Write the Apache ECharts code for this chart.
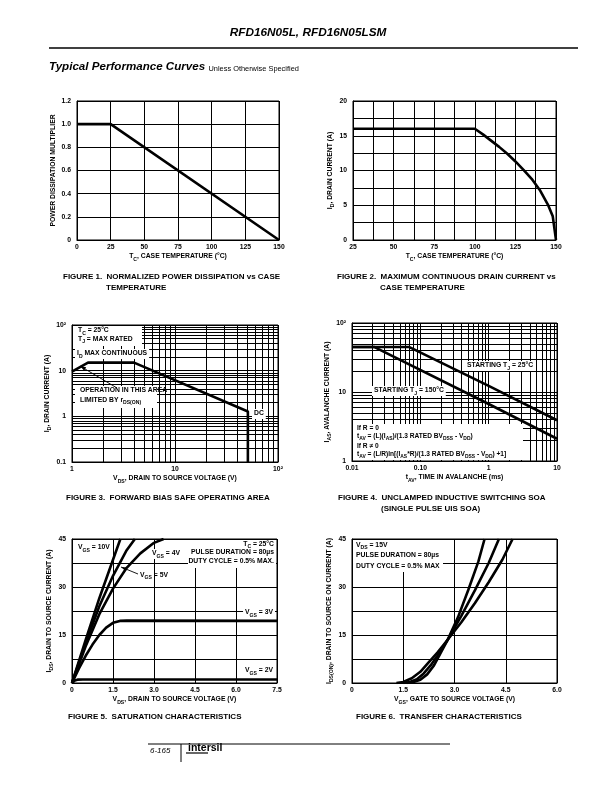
<!DOCTYPE html>
<html>
<head>
<meta charset="utf-8">
<script src="https://cdn.jsdelivr.net/npm/echarts@6.0.0/dist/echarts.min.js"></script>
<style>
html,body{margin:0;padding:0;background:#fff;}
#c{width:612px;height:792px;}
</style>
</head>
<body>
<div id="c"></div>
<script>
// ---------------- DATA ----------------
// Figure 1: normalized power dissipation vs case temperature
const fig1Temp = [0, 25, 150];
const fig1Mult = [1.0, 1.0, 0.0];

// Figure 2: maximum continuous drain current vs case temperature
const fig2Temp = [25, 100, 105, 110, 115, 120, 125, 130, 135, 140, 145, 148, 150];
const fig2Id   = [16, 16, 15.2, 14.3, 13.4, 12.4, 11.3, 10.1, 8.8, 7.2, 5.1, 3.4, 0];

// Figure 3: forward bias safe operating area (log-log)
const fig3Vds = [1, 1.43, 4, 51, 51];
const fig3Id  = [9.5, 15, 15, 1.28, 0.1];
const fig3GridX = [2, 3, 4, 5, 6, 7, 8, 9, 20, 30, 40, 50, 60, 70, 80, 90];
const fig3GridY = [0.2, 0.3, 0.4, 0.5, 0.6, 0.7, 0.8, 0.9, 2, 3, 4, 5, 6, 7, 8, 9, 20, 30, 40, 50, 60, 70, 80, 90];

// Figure 4: unclamped inductive switching SOA (log-log)
const fig4Tav25  = [0.01, 0.068, 1, 10];
const fig4Ias25  = [45, 45, 12.3, 3.9];
const fig4Tav150 = [0.01, 0.021, 1, 10];
const fig4Ias150 = [45, 45, 6.7, 2.1];
const fig4Idm = 45;
const fig4GridX = [0.02, 0.03, 0.04, 0.05, 0.06, 0.07, 0.08, 0.09, 0.2, 0.3, 0.4, 0.5, 0.6, 0.7, 0.8, 0.9, 2, 3, 4, 5, 6, 7, 8, 9];
const fig4GridY = [2, 3, 4, 5, 6, 7, 8, 9, 20, 30, 40, 50, 60, 70, 80, 90];

// Figure 5: saturation characteristics
const fig5Vds10 = [0, 0.5, 1.0, 1.5, 1.77];
const fig5Ids10 = [0, 13.5, 26.5, 38.5, 45];
const fig5Vds5  = [0, 0.5, 1.0, 1.5, 2.0, 2.3];
const fig5Ids5  = [0, 12.5, 24, 33.5, 41.5, 45];
const fig5Vds4  = [0, 0.5, 1.0, 1.5, 2.0, 2.5, 3.0, 3.35];
const fig5Ids4  = [0, 11.5, 21.5, 29.5, 36, 40.5, 43.8, 45];
const fig5Vds3  = [0, 0.25, 0.5, 0.75, 1.0, 1.25, 1.5, 1.75, 2.0, 7.5];
const fig5Ids3  = [0, 4.5, 8.5, 12, 15, 17.3, 18.8, 19.4, 19.5, 19.4];
const fig5Vds2  = [0, 0.1, 0.2, 0.4, 7.5];
const fig5Ids2  = [0, 0.8, 1.05, 1.1, 1.1];

// Figure 6: transfer characteristics
const fig6VgsA = [1.6, 1.8, 2.0, 2.2, 2.4, 2.6, 2.8, 3.1, 3.4, 3.7, 3.88];
const fig6IdsA = [0, 0.3, 1, 2.7, 5.5, 9.5, 13.5, 20.5, 29, 38, 45];
const fig6VgsB = [1.5, 1.7, 1.9, 2.1, 2.3, 2.5, 2.8, 3.2, 3.6, 4.0, 4.3];
const fig6IdsB = [0, 0.3, 1.2, 3, 5.5, 8.5, 13.5, 21, 29, 37.5, 45];
const fig6VgsC = [1.3, 1.5, 1.75, 2.0, 2.25, 2.5, 2.8, 3.2, 3.6, 4.0, 4.4, 4.7];
const fig6IdsC = [0, 0.3, 1.5, 3.5, 6.5, 9.5, 13.5, 19, 25, 31.5, 38.5, 45];

// ---------------- LAYOUT ----------------
const FONT = '"Liberation Sans", Arial, Helvetica, sans-serif';
const G = [
  {left: 77,  top: 101, width: 202, height: 139},
  {left: 353, top: 101, width: 203, height: 139},
  {left: 72,  top: 325, width: 206, height: 137},
  {left: 352, top: 323, width: 205, height: 138},
  {left: 72,  top: 539, width: 205, height: 144},
  {left: 352, top: 539, width: 205, height: 144}
];
const TICK_FS = 6.8, NAME_FS = 6.8, CAP_FS = 8, ANN_FS = 6.8;

const zip = (a, b) => a.map((v, i) => [v, b[i]]);

function toRich(str) {
  let out = '', last = 0, m;
  const re = /([_^])\{([^}]*)\}/g;
  while ((m = re.exec(str))) {
    if (m.index > last) out += '{b|' + str.slice(last, m.index) + '}';
    out += '{' + (m[1] === '_' ? 's' : 'p') + '|' + m[2] + '}';
    last = re.lastIndex;
  }
  if (last < str.length) out += '{b|' + str.slice(last) + '}';
  return out;
}
function richStyles(fs) {
  const base = {fontFamily: FONT, fontWeight: 'bold', color: '#000', fill: '#000'};
  return {
    b: Object.assign({}, base, {fontSize: fs, verticalAlign: 'bottom', padding: [0, 0, Math.round(fs * 0.3), 0]}),
    s: Object.assign({}, base, {fontSize: fs * 0.75, verticalAlign: 'bottom'}),
    p: Object.assign({}, base, {fontSize: fs * 0.7, verticalAlign: 'top'})
  };
}

const labelStyle = {color: '#000', fontSize: TICK_FS, fontWeight: 'bold', fontFamily: FONT, margin: 4, hideOverlap: false, showMinLabel: true, showMaxLabel: true};
const splitStyle = {show: true, lineStyle: {color: '#000', width: 1, type: 'solid'}};
const axisLineStyle = {show: true, onZero: false, lineStyle: {color: '#000', width: 1}};

function xAx(idx, o) {
  return Object.assign({
    gridIndex: idx, type: 'value', axisLine: axisLineStyle, axisTick: {show: false},
    splitLine: splitStyle, nameLocation: 'middle', nameGap: 13,
    nameTextStyle: {rich: richStyles(NAME_FS), color: '#000'}
  }, o, {axisLabel: Object.assign({}, labelStyle, o.axisLabel || {})});
}
function yAx(idx, o) {
  return Object.assign({
    gridIndex: idx, type: 'value', axisLine: axisLineStyle, axisTick: {show: false},
    splitLine: splitStyle, nameLocation: 'middle', nameGap: 20, nameRotate: 90,
    nameTextStyle: {rich: richStyles(NAME_FS), color: '#000'}
  }, o, {axisLabel: Object.assign({}, labelStyle, {margin: 6}, o.axisLabel || {})});
}
const fmtLog = v => {
  const r = Math.round(v * 1000) / 1000;
  if (r === 100) return '10²';
  return String(r);
};

const lineSeries = (xi, data, extra) => Object.assign({
  type: 'line', xAxisIndex: xi, yAxisIndex: xi, data: data, symbol: 'none', smooth: false,
  lineStyle: {color: '#000', width: 2.6}, z: 5, silent: true, clip: true
}, extra || {});

function gridLines(xi, xs, ys) {
  return {
    type: 'line', xAxisIndex: xi, yAxisIndex: xi, data: [], symbol: 'none', z: 1, silent: true,
    markLine: {
      silent: true, symbol: ['none', 'none'], label: {show: false}, animation: false,
      lineStyle: {color: '#000', width: 1, type: 'solid'},
      emphasis: {disabled: true},
      data: xs.map(v => ({xAxis: v})).concat(ys.map(v => ({yAxis: v})))
    }
  };
}

// ---------- GRAPHIC helpers ----------
const gfx = [];
function text(x, y, str, opts) {
  opts = opts || {};
  const fs = opts.fs || ANN_FS;
  gfx.push({
    type: 'text', x: x, y: y, z: 100,
    style: Object.assign({
      text: toRich(str), rich: richStyles(fs), align: opts.align || 'left', verticalAlign: 'middle',
      fill: '#000', fontSize: fs, fontWeight: 'bold', fontFamily: FONT
    }, opts.bg ? {backgroundColor: '#fff', padding: opts.pad || [1, 2, 0, 2]} : {})
  });
}
function plain(x, y, str, font, align) {
  gfx.push({type: 'text', x: x, y: y, z: 100, style: {text: str, font: font, fill: '#000', align: align || 'left', verticalAlign: 'middle'}});
}
function rect(x, y, w, h) {
  gfx.push({type: 'rect', z: 90, shape: {x: x, y: y, width: w, height: h}, style: {fill: '#fff'}});
}
function line(x1, y1, x2, y2, w) {
  gfx.push({type: 'line', z: 100, shape: {x1: x1, y1: y1, x2: x2, y2: y2}, style: {stroke: '#000', lineWidth: w || 1}});
}
function arrow(x1, y1, x2, y2) {
  line(x1, y1, x2, y2, 0.9);
  const a = Math.atan2(y2 - y1, x2 - x1), L = 6, W = 2;
  const bx = x2 - L * Math.cos(a), by = y2 - L * Math.sin(a);
  gfx.push({type: 'polygon', z: 100, shape: {points: [[x2, y2], [bx + W * Math.sin(a), by - W * Math.cos(a)], [bx - W * Math.sin(a), by + W * Math.cos(a)]]}, style: {fill: '#000'}});
}

// Header
plain(308, 33, 'RFD16N05L, RFD16N05LSM', 'italic bold 11.8px ' + FONT, 'center');
line(49, 48, 578, 48, 1.3);
gfx.push({type: 'text', x: 49, y: 67, z: 100, style: {
  text: '{t|Typical Performance Curves} {u|Unless Otherwise Specified}',
  rich: {t: {font: 'italic bold 11.6px ' + FONT, fill: '#000', verticalAlign: 'bottom'},
         u: {font: '7.4px ' + FONT, fill: '#000', verticalAlign: 'bottom', padding: [0, 0, 1, 0]}},
  verticalAlign: 'middle'}});

// Captions
function caption(x, y, num, l1, l2) {
  plain(x, y, 'FIGURE ' + num + '.  ' + l1, 'bold ' + CAP_FS + 'px ' + FONT);
  if (l2) plain(x + 43, y + 11, l2, 'bold ' + CAP_FS + 'px ' + FONT);
}
caption(63, 277, 1, 'NORMALIZED POWER DISSIPATION vs CASE', 'TEMPERATURE');
caption(337, 277, 2, 'MAXIMUM CONTINUOUS DRAIN CURRENT vs', 'CASE TEMPERATURE');
caption(66, 498, 3, 'FORWARD BIAS SAFE OPERATING AREA');
caption(338, 498, 4, 'UNCLAMPED INDUCTIVE SWITCHING SOA', '(SINGLE PULSE UIS SOA)');
caption(68, 717, 5, 'SATURATION CHARACTERISTICS');
caption(356, 717, 6, 'TRANSFER CHARACTERISTICS');

// Figure 3 annotations
rect(G[2].left + 1, G[2].top + 1, 69, 20);
text(G[2].left + 6, G[2].top + 6.5, 'T_{C} = 25°C');
text(G[2].left + 6, G[2].top + 15, 'T_{J} = MAX RATED');
text(G[2].left + 3, G[2].top + 29, 'I_{D} MAX CONTINUOUS', {bg: true});
rect(G[2].left + 3, G[2].top + 61, 82, 22);
text(G[2].left + 8, G[2].top + 66.5, 'OPERATION IN THIS AREA');
text(G[2].left + 8, G[2].top + 76, 'LIMITED BY r_{DS(ON)}');
arrow(G[2].left + 45, G[2].top + 63, G[2].left + 8, G[2].top + 41);
text(G[2].left + 180, G[2].top + 89, 'DC', {bg: true});

// Figure 4 annotations
text(G[3].left + 113, G[3].top + 43, 'STARTING T_{J} = 25°C', {bg: true});
text(G[3].left + 20, G[3].top + 68, 'STARTING T_{J} = 150°C', {bg: true});
rect(G[3].left + 1, G[3].top + 101, 170, 36);
text(G[3].left + 5, G[3].top + 106, 'If R = 0', {fs: 6.6});
text(G[3].left + 5, G[3].top + 114, 't_{AV} = (L)(I_{AS})/(1.3 RATED BV_{DSS} - V_{DD})', {fs: 6.6});
text(G[3].left + 5, G[3].top + 124, 'If R ≠ 0', {fs: 6.6});
text(G[3].left + 5, G[3].top + 132, 't_{AV} = (L/R)ln[(I_{AS}*R)/(1.3 RATED BV_{DSS} - V_{DD}) +1]', {fs: 6.6});

// Figure 5 annotations
text(G[4].left + 4, G[4].top + 9, 'V_{GS} = 10V', {bg: true});
text(G[4].left + 78, G[4].top + 15, 'V_{GS} = 4V', {bg: true});
text(G[4].left + 68, G[4].top + 37, 'V_{GS} = 5V');
arrow(G[4].left + 66, G[4].top + 35, G[4].left + 49, G[4].top + 28);
rect(G[4].left + 116, G[4].top + 1, 88, 28);
text(G[4].left + 202, G[4].top + 6, 'T_{C} = 25°C', {align: 'right'});
text(G[4].left + 202, G[4].top + 14.5, 'PULSE DURATION = 80µs', {align: 'right'});
text(G[4].left + 202, G[4].top + 23.5, 'DUTY CYCLE = 0.5% MAX.', {align: 'right'});
text(G[4].left + 203, G[4].top + 74, 'V_{GS} = 3V', {bg: true, align: 'right'});
text(G[4].left + 203, G[4].top + 132, 'V_{GS} = 2V', {bg: true, align: 'right'});

// Figure 6 annotations
rect(G[5].left + 1, G[5].top + 1, 90, 32);
text(G[5].left + 4, G[5].top + 7, 'V_{DS} = 15V');
text(G[5].left + 4, G[5].top + 17.5, 'PULSE DURATION = 80µs');
text(G[5].left + 4, G[5].top + 28.5, 'DUTY CYCLE = 0.5% MAX');

// Footer
line(148, 744, 450, 744, 1);
line(181, 744, 181, 762, 1);
plain(150, 751, '6-165', 'italic 8px ' + FONT);
plain(188, 748, 'intersil', 'bold 10.5px ' + FONT);
line(186, 753, 208, 753, 1.2);

// ---------------- OPTION ----------------
const option = {
  animation: false,
  backgroundColor: '#fff',
  textStyle: {fontFamily: FONT},
  grid: G.map(g => Object.assign({show: true, borderColor: '#000', borderWidth: 1, backgroundColor: 'transparent', containLabel: false}, g)),
  xAxis: [
    xAx(0, {min: 0, max: 150, interval: 25, name: toRich('T_{C}, CASE TEMPERATURE (°C)')}),
    xAx(1, {min: 25, max: 150, interval: 12.5, name: toRich('T_{C}, CASE TEMPERATURE (°C)'),
      axisLabel: {formatter: v => (v % 25 === 0 ? String(v) : '')}}),
    xAx(2, {type: 'log', logBase: 10, min: 1, max: 100, name: toRich('V_{DS}, DRAIN TO SOURCE VOLTAGE (V)'),
      axisLabel: {formatter: fmtLog}}),
    xAx(3, {type: 'log', logBase: 10, min: 0.01, max: 10, name: toRich('t_{AV}, TIME IN AVALANCHE (ms)'),
      axisLabel: {formatter: v => { const r = Math.round(v * 1000) / 1000; return r === 0.1 ? '0.10' : String(r); }}}),
    xAx(4, {min: 0, max: 7.5, interval: 1.5, name: toRich('V_{DS}, DRAIN TO SOURCE VOLTAGE (V)'),
      axisLabel: {formatter: v => (v === 0 ? '0' : v.toFixed(1))}}),
    xAx(5, {min: 0, max: 6, interval: 1.5, name: toRich('V_{GS}, GATE TO SOURCE VOLTAGE (V)'),
      axisLabel: {formatter: v => (v === 0 ? '0' : v.toFixed(1))}})
  ],
  yAxis: [
    yAx(0, {min: 0, max: 1.2, interval: 0.2, name: 'POWER DISSIPATION MULTIPLIER', nameGap: 20,
      nameTextStyle: {fontSize: NAME_FS, fontWeight: 'bold', color: '#000', fontFamily: FONT},
      axisLabel: {formatter: v => (v === 0 ? '0' : v.toFixed(1))}}),
    yAx(1, {min: 0, max: 20, interval: 2.5, name: toRich('I_{D}, DRAIN CURRENT (A)'), nameGap: 15,
      axisLabel: {formatter: v => (v % 5 === 0 ? String(v) : '')}}),
    yAx(2, {type: 'log', logBase: 10, min: 0.1, max: 100, name: toRich('I_{D}, DRAIN CURRENT (A)'), nameGap: 17,
      axisLabel: {formatter: fmtLog}}),
    yAx(3, {type: 'log', logBase: 10, min: 1, max: 100, name: toRich('I_{AS}, AVALANCHE CURRENT (A)'), nameGap: 15,
      axisLabel: {formatter: fmtLog}}),
    yAx(4, {min: 0, max: 45, interval: 7.5, name: toRich('I_{DS}, DRAIN TO SOURCE CURRENT (A)'), nameGap: 17,
      axisLabel: {formatter: v => (v % 15 === 0 ? String(v) : '')}}),
    yAx(5, {min: 0, max: 45, interval: 7.5, name: toRich('I_{DS(ON)}, DRAIN TO SOURCE ON CURRENT (A)'), nameGap: 16,
      axisLabel: {formatter: v => (v % 15 === 0 ? String(v) : '')}})
  ],
  series: [
    lineSeries(0, zip(fig1Temp, fig1Mult)),
    lineSeries(1, zip(fig2Temp, fig2Id)),
    gridLines(2, fig3GridX, fig3GridY),
    lineSeries(2, zip(fig3Vds, fig3Id)),
    gridLines(3, fig4GridX, fig4GridY),
    {
      type: 'line', xAxisIndex: 3, yAxisIndex: 3, data: [], silent: true, z: 2,
      markLine: {silent: true, symbol: ['none', 'none'], animation: false,
        lineStyle: {opacity: 0},
        label: {show: true, position: 'start', formatter: 'Idm', distance: 5, color: '#000', fontSize: TICK_FS, fontWeight: 'bold', fontFamily: FONT},
        data: [{yAxis: fig4Idm}]}
    },
    lineSeries(3, zip(fig4Tav25, fig4Ias25)),
    lineSeries(3, zip(fig4Tav150, fig4Ias150)),
    lineSeries(4, zip(fig5Vds10, fig5Ids10)),
    lineSeries(4, zip(fig5Vds5, fig5Ids5)),
    lineSeries(4, zip(fig5Vds4, fig5Ids4)),
    lineSeries(4, zip(fig5Vds3, fig5Ids3)),
    lineSeries(4, zip(fig5Vds2, fig5Ids2)),
    lineSeries(5, zip(fig6VgsA, fig6IdsA)),
    lineSeries(5, zip(fig6VgsB, fig6IdsB)),
    lineSeries(5, zip(fig6VgsC, fig6IdsC))
  ],
  graphic: gfx
};

const chart = echarts.init(document.getElementById('c'), null, {renderer: 'canvas', width: 612, height: 792});
chart.setOption(option);
</script>
</body>
</html>
